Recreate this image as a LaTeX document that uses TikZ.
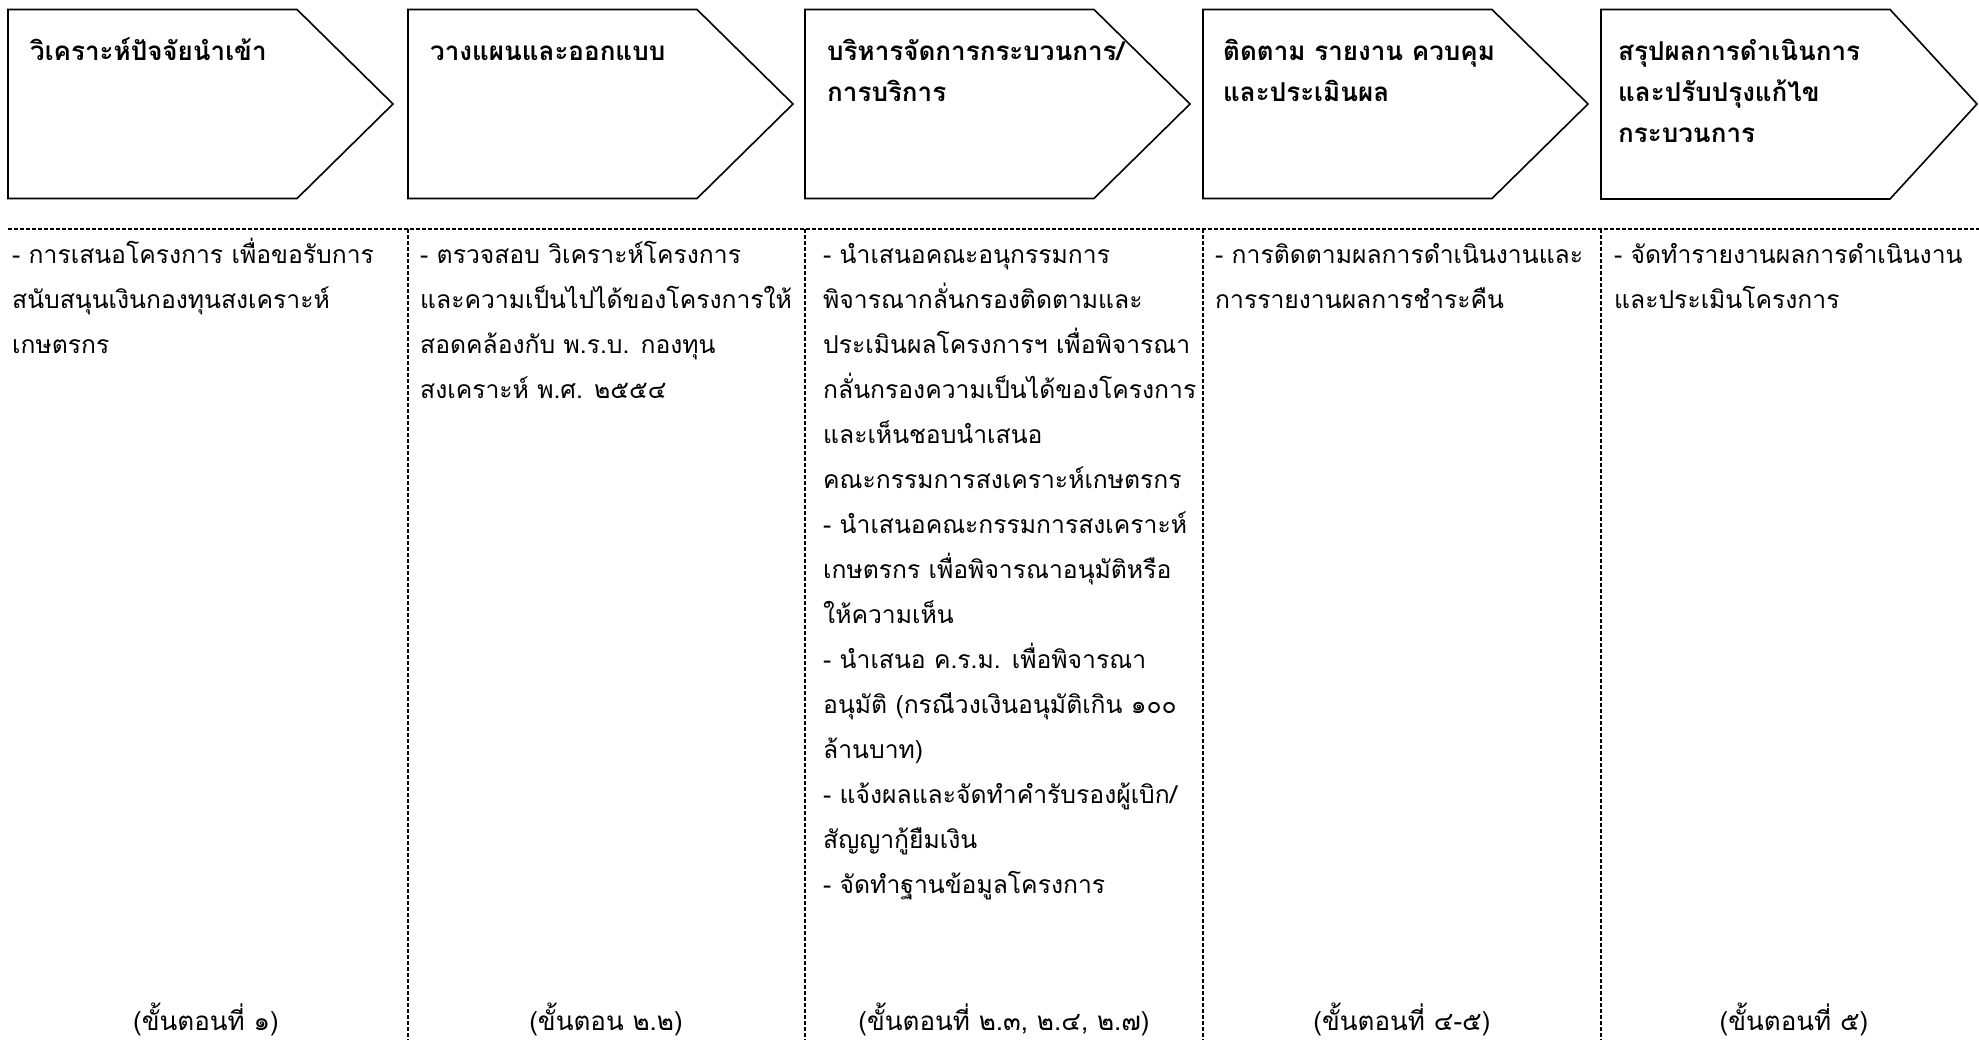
\documentclass[tikz,border=0pt]{standalone}
\usepackage{fontspec}
\newfontfamily\thaifont[Script=Thai]{Loma}
\newcommand\tstrut{\rule{0pt}{30pt}}
\begin{document}
\begin{tikzpicture}[x=1pt,y=-1pt,
  hbox/.style={draw=black,line width=1.6pt,line join=miter},
  sepline/.style={draw=black,line width=1.2pt,dash pattern=on 4pt off 2pt},
  htext/.style={anchor=north west,inner sep=0pt,align=left,font=\thaifont\bfseries\fontsize{26}{41}\selectfont},
  btext/.style={anchor=north west,inner sep=0pt,align=left,font=\thaifont\fontsize{24.7}{45}\selectfont},
  stxt/.style={anchor=base,inner sep=0pt,font=\thaifont\fontsize{26}{30}\selectfont}]
\useasboundingbox (0,0) rectangle (1979,1040);
% header arrow boxes
\foreach \L in {8,408,805,1203} {
  \draw[hbox] (\L,9.5) -- ++(289,0) -- ++(96,94.5) -- ++(-96,94.5) -- ++(-289,0) -- cycle;
}
\draw[hbox] (1601,9.5) -- (1890,9.5) -- (1977,104) -- (1890,199) -- (1601,199) -- cycle;
% header texts
\node[htext] (h1) at (30,30) {\tstrut วิเคราะห์ปัจจัยนำเข้า};
\node[htext] (h2) at (430,30) {\tstrut วางแผนและออกแบบ};
\node[htext] (h3) at (827,30) {\tstrut บริหารจัดการกระบวนการ/\\การบริการ};
\node[htext] (h4) at (1223,30) {\tstrut ติดตาม รายงาน ควบคุม\\และประเมินผล};
\node[htext] (h5) at (1618,30) {\tstrut สรุปผลการดำเนินการ\\และปรับปรุงแก้ไข\\กระบวนการ};
% separators
\coordinate (hl) at (8,229);
\coordinate (hr) at (1979,229);
\draw[sepline] (hl) -- (hr);
\foreach \X [count=\i] in {408,805,1203,1601} {
  \coordinate (vt\i) at (\X,229);
  \coordinate (vb\i) at (\X,1040);
  \draw[sepline] (vt\i) -- (vb\i);
}
% body texts
\node[btext] (b1) at (12,233) {\tstrut - การเสนอโครงการ เพื่อขอรับการ\\สนับสนุนเงินกองทุนสงเคราะห์\\เกษตรกร};
\node[btext] (b2) at (420,233) {\tstrut - ตรวจสอบ วิเคราะห์โครงการ\\และความเป็นไปได้ของโครงการให้\\สอดคล้องกับ พ.ร.บ. กองทุน\\สงเคราะห์ พ.ศ. ๒๕๕๔};
\node[btext] (b3) at (823,233) {\tstrut - นำเสนอคณะอนุกรรมการ\\พิจารณากลั่นกรองติดตามและ\\ประเมินผลโครงการฯ เพื่อพิจารณา\\กลั่นกรองความเป็นได้ของโครงการ\\และเห็นชอบนำเสนอ\\คณะกรรมการสงเคราะห์เกษตรกร\\- นำเสนอคณะกรรมการสงเคราะห์\\เกษตรกร เพื่อพิจารณาอนุมัติหรือ\\ให้ความเห็น\\- นำเสนอ ค.ร.ม. เพื่อพิจารณา\\อนุมัติ (กรณีวงเงินอนุมัติเกิน ๑๐๐\\ล้านบาท)\\- แจ้งผลและจัดทำคำรับรองผู้เบิก/\\สัญญากู้ยืมเงิน\\- จัดทำฐานข้อมูลโครงการ};
\node[btext] (b4) at (1215,233) {\tstrut - การติดตามผลการดำเนินงานและ\\การรายงานผลการชำระคืน};
\node[btext] (b5) at (1614,233) {\tstrut - จัดทำรายงานผลการดำเนินงาน\\และประเมินโครงการ};
% step labels
\node[stxt] (s1) at (206,1030) {(ขั้นตอนที่ ๑)};
\node[stxt] (s2) at (606,1030) {(ขั้นตอน ๒.๒)};
\node[stxt] (s3) at (1004,1030) {(ขั้นตอนที่ ๒.๓, ๒.๔, ๒.๗)};
\node[stxt] (s4) at (1402,1030) {(ขั้นตอนที่ ๔-๕)};
\node[stxt] (s5) at (1794,1030) {(ขั้นตอนที่ ๕)};
\end{tikzpicture}
\end{document}
